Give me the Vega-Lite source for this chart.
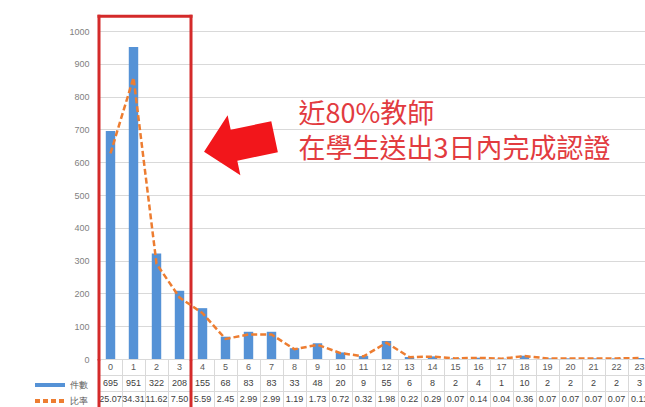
{
  "$schema": "https://vega.github.io/schema/vega-lite/v6.json",
  "autosize": {"type": "pad"},
  "padding": {"left": 33, "top": 14, "right": -6, "bottom": 1},
  "config": {
    "view": {"stroke": null},
    "font": "Liberation Sans"
  },
  "data": {
    "values": [
      {"day": 0, "count": 695, "ratio": 25.07},
      {"day": 1, "count": 951, "ratio": 34.31},
      {"day": 2, "count": 322, "ratio": 11.62},
      {"day": 3, "count": 208, "ratio": 7.50},
      {"day": 4, "count": 155, "ratio": 5.59},
      {"day": 5, "count": 68, "ratio": 2.45},
      {"day": 6, "count": 83, "ratio": 2.99},
      {"day": 7, "count": 83, "ratio": 2.99},
      {"day": 8, "count": 33, "ratio": 1.19},
      {"day": 9, "count": 48, "ratio": 1.73},
      {"day": 10, "count": 20, "ratio": 0.72},
      {"day": 11, "count": 9, "ratio": 0.32},
      {"day": 12, "count": 55, "ratio": 1.98},
      {"day": 13, "count": 6, "ratio": 0.22},
      {"day": 14, "count": 8, "ratio": 0.29},
      {"day": 15, "count": 2, "ratio": 0.07},
      {"day": 16, "count": 4, "ratio": 0.14},
      {"day": 17, "count": 1, "ratio": 0.04},
      {"day": 18, "count": 10, "ratio": 0.36},
      {"day": 19, "count": 2, "ratio": 0.07},
      {"day": 20, "count": 2, "ratio": 0.07},
      {"day": 21, "count": 2, "ratio": 0.07},
      {"day": 22, "count": 2, "ratio": 0.07},
      {"day": 23, "count": 3, "ratio": 0.11}
    ]
  },
  "spacing": 0,
  "bounds": "flush",
  "resolve": {"scale": {"x": "shared"}},
  "vconcat": [
    {
      "width": 552,
      "height": 328,
      "layer": [
        {
          "layer": [
            {
              "mark": {"type": "bar", "width": {"band": 0.41}, "color": "#5592d6"},
              "encoding": {
                "x": {"field": "day", "type": "ordinal", "scale": {"type": "band", "paddingInner": 0, "paddingOuter": 0}, "axis": null},
                "y": {
                  "field": "count", "type": "quantitative",
                  "scale": {"domain": [0, 1000]},
                  "axis": {
                    "values": [0, 100, 200, 300, 400, 500, 600, 700, 800, 900, 1000],
                    "tickCount": 12,
                    "format": "d", "labelOverlap": false,
                    "grid": true, "gridColor": "#d9d9d9", "domain": false, "ticks": false,
                    "labelColor": "#7f7f7f", "labelFontSize": 9, "labelPadding": 10, "title": null
                  }
                },
                "color": {
                  "datum": "件數", "type": "nominal",
                  "scale": {"domain": ["件數", "比率"], "range": ["#5592d6", "#ed7d31"]},
                  "legend": {
                    "orient": "none", "legendX": -66, "legendY": 346, "title": null,
                    "padding": 0, "offset": 0,
                    "symbolType": "stroke", "symbolSize": 900, "symbolStrokeWidth": 4,
                    "labelFontSize": 9, "labelColor": "#595959", "labelOffset": 3,
                    "clipHeight": 16, "rowPadding": 0,
                    "encode": {
                      "symbols": {
                        "update": {
                          "stroke": {"scale": "color", "field": "value"},
                          "strokeDash": {"signal": "datum.value === '比率' ? [5, 3] : [1, 0]"}
                        }
                      }
                    }
                  }
                }
              }
            },
            {
              "data": {"values": [{}]},
              "mark": {"type": "rule", "color": "#d42a2a", "strokeWidth": 3, "strokeCap": "square"},
              "encoding": {
                "x": {"datum": 0, "type": "ordinal", "bandPosition": 0, "axis": null},
                "y": {"datum": 1045, "type": "quantitative"},
                "y2": {"datum": 0}
              }
            },
            {
              "data": {"values": [{}]},
              "mark": {"type": "rule", "color": "#d42a2a", "strokeWidth": 3, "strokeCap": "square"},
              "encoding": {
                "x": {"datum": 3, "type": "ordinal", "bandPosition": 1, "axis": null},
                "y": {"datum": 1045, "type": "quantitative"},
                "y2": {"datum": 0}
              }
            },
            {
              "data": {"values": [{}]},
              "mark": {"type": "rule", "color": "#d42a2a", "strokeWidth": 3, "strokeCap": "square"},
              "encoding": {
                "x": {"datum": 0, "type": "ordinal", "bandPosition": 0, "axis": null},
                "x2": {"datum": 3, "bandPosition": 1},
                "y": {"datum": 1045, "type": "quantitative"}
              }
            },
            {
              "data": {"values": [{}]},
              "mark": {
                "type": "point",
                "shape": "M -1 0 L -0.15 -0.85 L -0.15 -0.44 L 1 -0.44 L 1 0.44 L -0.15 0.44 L -0.15 0.85 Z",
                "filled": true, "color": "#f2161b", "opacity": 1, "size": 5200, "angle": 348, "strokeWidth": 0
              },
              "encoding": {
                "x": {"datum": 6, "type": "ordinal", "bandPosition": 0.1, "axis": null},
                "y": {"datum": 655, "type": "quantitative"}
              }
            },
            {
              "data": {"values": [{"note": "近80%教師\n在學生送出3日內完成認證"}]},
              "mark": {
                "type": "text", "align": "left", "baseline": "middle",
                "lineBreak": "\n", "lineHeight": 35, "fontSize": 27,
                "font": "Noto Sans CJK TC", "color": "#e23b3f"
              },
              "encoding": {
                "x": {"datum": 8, "type": "ordinal", "bandPosition": 0.67, "axis": null},
                "y": {"datum": 745, "type": "quantitative"},
                "text": {"field": "note"}
              }
            }
          ]
        },
        {
          "mark": {"type": "line", "strokeDash": [6, 3], "strokeWidth": 2.5},
          "encoding": {
            "x": {"field": "day", "type": "ordinal", "axis": null},
            "y": {"field": "ratio", "type": "quantitative", "scale": {"domain": [0, 40]}, "axis": null},
            "color": {"datum": "比率", "type": "nominal"}
          }
        }
      ],
      "resolve": {"scale": {"y": "independent"}}
    },
    {
      "width": 552,
      "height": 48,
      "layer": [
        {
          "mark": {"type": "text", "fontSize": 9, "color": "#595959"},
          "encoding": {
            "x": {
              "field": "day", "type": "ordinal",
              "scale": {"type": "band", "paddingInner": 0, "paddingOuter": 0},
              "axis": {"labels": false, "ticks": false, "domain": false, "grid": true, "bandPosition": 0, "gridColor": "#d9d9d9", "title": null}
            },
            "y": {
              "datum": "day", "type": "nominal",
              "scale": {"type": "band", "domain": ["day", "件數", "比率"], "paddingInner": 0, "paddingOuter": 0},
              "axis": {"labels": false, "ticks": false, "domain": false, "grid": true, "bandPosition": 0, "gridColor": "#d9d9d9", "title": null}
            },
            "text": {"field": "day"}
          }
        },
        {
          "mark": {"type": "text", "fontSize": 9, "color": "#404040"},
          "encoding": {
            "x": {"field": "day", "type": "ordinal"},
            "y": {"datum": "件數", "type": "nominal"},
            "text": {"field": "count"}
          }
        },
        {
          "mark": {"type": "text", "fontSize": 9, "color": "#404040"},
          "encoding": {
            "x": {"field": "day", "type": "ordinal"},
            "y": {"datum": "比率", "type": "nominal"},
            "text": {"field": "ratio", "format": ".2f"}
          }
        },
        {
          "data": {"values": [{}]},
          "mark": {"type": "rule", "color": "#d42a2a", "strokeWidth": 3},
          "encoding": {
            "x": {"datum": 0, "type": "ordinal", "bandPosition": 0}
          }
        },
        {
          "data": {"values": [{}]},
          "mark": {"type": "rule", "color": "#d42a2a", "strokeWidth": 3},
          "encoding": {
            "x": {"datum": 3, "type": "ordinal", "bandPosition": 1}
          }
        }
      ]
    }
  ]
}
